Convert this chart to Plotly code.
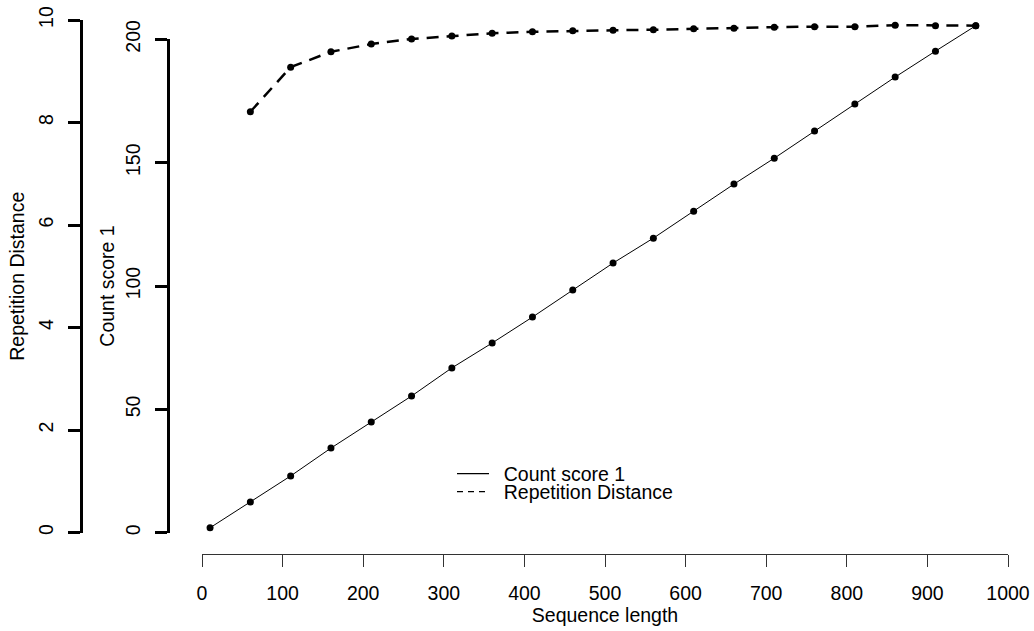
import plotly.graph_objects as go

# ---- data ----
seq_len = [10, 60, 110, 160, 210, 260, 310, 360, 410, 460,
           510, 560, 610, 660, 710, 760, 810, 860, 910, 960]
count_score = [2.0, 12.4, 23.0, 34.3, 44.9, 55.4, 66.8, 76.9, 87.4, 98.4,
               109.3, 119.4, 130.3, 141.3, 151.8, 162.8, 173.8, 184.7, 195.2, 205.5]
rep_len = [60, 110, 160, 210, 260, 310, 360, 410, 460,
           510, 560, 610, 660, 710, 760, 810, 860, 910, 960]
rep_dist = [8.21, 9.08, 9.38, 9.53, 9.63, 9.69, 9.74, 9.77, 9.79,
            9.80, 9.81, 9.83, 9.84, 9.86, 9.87, 9.87, 9.90, 9.89, 9.89]

x_ticks = [0, 100, 200, 300, 400, 500, 600, 700, 800, 900, 1000]
count_ticks = [0, 50, 100, 150, 200]
rep_ticks = [0, 2, 4, 6, 8, 10]

FONT = "Liberation Sans, Arial, sans-serif"
FS = 19.5

fig = go.Figure()

# Count score 1 (solid)
fig.add_trace(go.Scatter(x=seq_len, y=count_score, mode="lines",
                         line=dict(color="black", width=1),
                         showlegend=False, xaxis="x", yaxis="y", hoverinfo="skip"))
fig.add_trace(go.Scatter(x=seq_len, y=count_score, mode="markers",
                         marker=dict(color="black", size=7),
                         showlegend=False, xaxis="x", yaxis="y"))
# Repetition Distance (dashed)
fig.add_trace(go.Scatter(x=rep_len, y=rep_dist, mode="lines",
                         line=dict(color="black", width=2.5, dash="12px,8px"),
                         showlegend=False, xaxis="x", yaxis="y2", hoverinfo="skip"))
fig.add_trace(go.Scatter(x=rep_len, y=rep_dist, mode="markers",
                         marker=dict(color="black", size=7),
                         showlegend=False, xaxis="x", yaxis="y2"))
# legend entries (thin line samples, as in the reference legend)
fig.add_trace(go.Scatter(x=[None], y=[None], mode="lines",
                         line=dict(color="black", width=1.2),
                         name="\u2002Count score 1", legend="legend",
                         xaxis="x", yaxis="y", hoverinfo="skip"))
fig.add_trace(go.Scatter(x=[None], y=[None], mode="lines",
                         line=dict(color="black", width=1.2, dash="6px,5px"),
                         name="\u2002Repetition Distance", legend="legend2",
                         xaxis="x", yaxis="y2", hoverinfo="skip"))
# empty traces so the decorative axes get their own subplots
fig.add_trace(go.Scatter(x=[None], y=[None], xaxis="x", yaxis="y3",
                         showlegend=False, hoverinfo="skip"))
fig.add_trace(go.Scatter(x=[None], y=[None], xaxis="x", yaxis="y4",
                         showlegend=False, hoverinfo="skip"))

ML, MR, MT, MB = 10, 10, 5, 77
W = 1034 - ML - MR
H = 631 - MT - MB


def px_x(p):
    return (p - ML) / W


def px_y(p):
    return (631 - MB - p) / H


c0, c200 = 532.7, 39.3      # count axis 0 / 200
r0, r10 = 532.5, 20.0       # rep axis 0 / 10
cs = (c0 - c200) / 200.0
rs = (r0 - r10) / 10.0
top_px, bot_px = MT, 631 - MB

tickfont = dict(family=FONT, size=FS, color="black")

fig.update_layout(
    template="none",
    width=1034, height=631,
    margin=dict(l=ML, r=MR, t=MT, b=MB, autoexpand=False),
    paper_bgcolor="white", plot_bgcolor="rgba(0,0,0,0)",
    font=dict(family=FONT, size=FS, color="black"),
    xaxis=dict(domain=[px_x(202), px_x(1008)], range=[0, 1000], automargin=False,
               anchor="y", showline=True, linecolor="#333", linewidth=1,
               ticks="outside", ticklen=12, tickwidth=1.2, tickcolor="#333",
               tickvals=x_ticks, tickfont=tickfont, ticklabelstandoff=10,
               showgrid=False, zeroline=False,
               title=dict(text="Sequence length", font=dict(family=FONT, size=FS), standoff=2)),
    yaxis=dict(domain=[0, 1], range=[(c0 - bot_px) / cs, (c0 - top_px) / cs],
               visible=False, showgrid=False, zeroline=False, automargin=False),
    yaxis2=dict(overlaying="y", range=[(r0 - bot_px) / rs, (r0 - top_px) / rs],
                visible=False, showgrid=False, zeroline=False, automargin=False),
    yaxis3=dict(domain=[px_y(c0), px_y(c200)], range=[0, 200], automargin=False,
                anchor="free", position=px_x(168), side="left",
                showline=True, linecolor="black", linewidth=2.5,
                ticks="outside", ticklen=12, tickwidth=2.5, tickcolor="black",
                tickvals=count_ticks, tickangle=-90, tickfont=tickfont,
                ticklabelstandoff=7,
                showgrid=False, zeroline=False,
                title=dict(text="Count score 1", font=dict(family=FONT, size=FS), standoff=1)),
    yaxis4=dict(domain=[px_y(r0), px_y(r10)], range=[0, 10], automargin=False,
                anchor="free", position=px_x(80.5), side="left",
                showline=True, linecolor="black", linewidth=2.5,
                ticks="outside", ticklen=12, tickwidth=2.5, tickcolor="black",
                tickvals=rep_ticks, tickangle=-90, tickfont=tickfont,
                ticklabelstandoff=7,
                showgrid=False, zeroline=False,
                title=dict(text="Repetition Distance", font=dict(family=FONT, size=FS), standoff=4)),
    legend=dict(x=px_x(452), y=px_y(474), xanchor="left", yanchor="middle",
                bgcolor="rgba(0,0,0,0)", borderwidth=0, itemwidth=32,
                font=dict(family=FONT, size=FS, color="black")),
    legend2=dict(x=px_x(452), y=px_y(492), xanchor="left", yanchor="middle",
                 bgcolor="rgba(0,0,0,0)", borderwidth=0, itemwidth=32,
                 font=dict(family=FONT, size=FS, color="black")),
    showlegend=True,
)

fig.write_html("out.html", config={"displayModeBar": False},
               post_script="document.body.style.margin='0';document.body.style.overflow='hidden';")
